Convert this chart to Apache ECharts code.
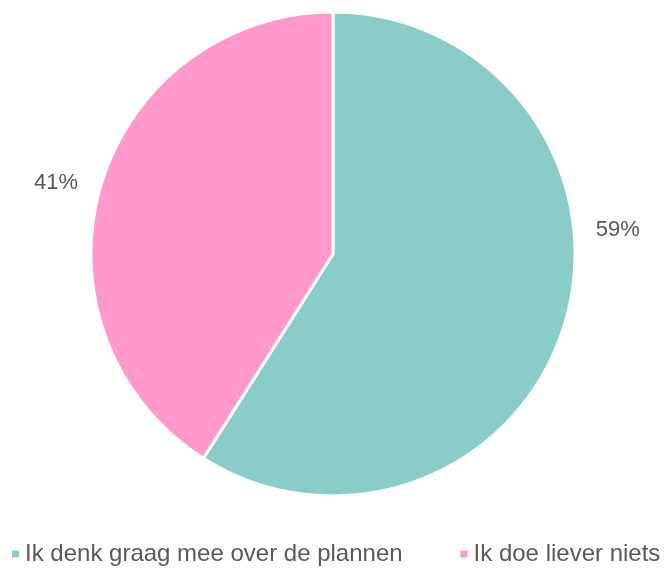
<!DOCTYPE html>
<html><head><meta charset="utf-8">
<script src="https://cdn.jsdelivr.net/npm/echarts@6/dist/echarts.min.js"></script>
<style>html,body{margin:0;padding:0;background:#fff}#c{width:665px;height:569px}</style>
</head><body><div id="c"></div>
<script>
var categories = ["Ik denk graag mee over de plannen", "Ik doe liever niets"];
var values = [59, 41];
var colors = ["#8ACCC8", "#FF99CC"];

var chart = echarts.init(document.getElementById('c'), null, {renderer: 'canvas'});
chart.setOption({
  animation: false,
  color: colors,
  legend: {
    data: categories,
    left: 10,
    right: 0,
    bottom: 3,
    padding: 0,
    icon: 'rect',
    itemWidth: 9,
    itemHeight: 9,
    itemGap: 56,
    textStyle: {fontFamily: 'Liberation Sans, Arial', fontSize: 24, color: '#595959'}
  },
  series: [{
    type: 'pie',
    center: [333, 254],
    radius: 242,
    startAngle: 90,
    clockwise: true,
    data: categories.map(function(n, i){ return {name: n, value: values[i]}; }),
    itemStyle: {borderColor: '#fff', borderWidth: 3},
    label: {
      show: true,
      position: 'outside',
      formatter: '{d}%',
      fontFamily: 'Liberation Sans, Arial',
      fontSize: 22,
      color: '#595959'
    },
    labelLine: {show: false, length: 13, length2: 5},
    labelLayout: function(p){
      return p.dataIndex === 0 ? {dy: -95, dx: 8} : {dy: 0};
    }
  }]
});
</script></body></html>
